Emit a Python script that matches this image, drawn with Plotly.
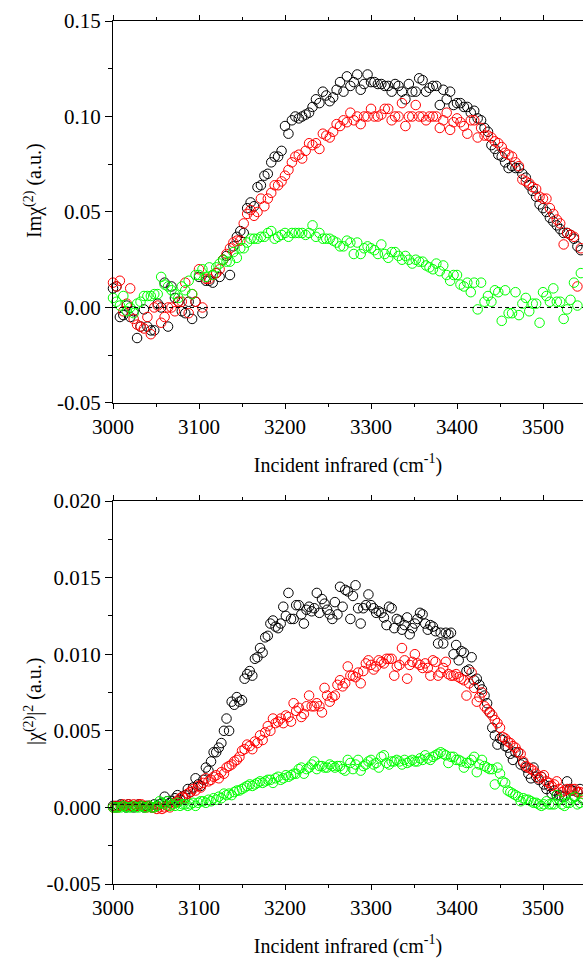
import numpy as np
import plotly.graph_objects as go

# ---------------- Im chi(2) spectra (upper panel), 4 cm-1 steps ----------------
wn_top = list(range(3000, 3553, 4))

im_black = [
    0.010, 0.011, -0.005, -0.004, 0.001, -0.005, -0.002, -0.016, -0.010, -0.001,
    -0.010, -0.012, -0.012, 0.002, 0.000, 0.013, -0.010, 0.011, 0.005, 0.003,
    -0.002, -0.003, 0.003, -0.006, 0.003, 0.016, -0.003, 0.014, 0.014, 0.013,
    0.018, 0.016, 0.025, 0.027, 0.017, 0.032, 0.037, 0.040, 0.039, 0.052,
    0.055, 0.053, 0.063, 0.064, 0.069, 0.070, 0.076, 0.079, 0.079, 0.082,
    0.095, 0.091, 0.098, 0.100, 0.099, 0.100, 0.101, 0.102, 0.105, 0.109,
    0.107, 0.113, 0.111, 0.108, 0.110, 0.114, 0.118, 0.113, 0.121, 0.116,
    0.118, 0.122, 0.114, 0.117, 0.122, 0.118, 0.118, 0.117, 0.117, 0.116,
    0.116, 0.113, 0.117, 0.116, 0.113, 0.109, 0.117, 0.113, 0.113, 0.120,
    0.119, 0.113, 0.115, 0.116, 0.116, 0.106, 0.114, 0.109, 0.113, 0.106,
    0.107, 0.107, 0.105, 0.105, 0.102, 0.103, 0.099, 0.098, 0.094, 0.092,
    0.085, 0.083, 0.080, 0.079, 0.076, 0.073, 0.074, 0.073, 0.073, 0.070,
    0.068, 0.064, 0.061, 0.058, 0.054, 0.052, 0.050, 0.047, 0.045, 0.043,
    0.041, 0.039, 0.039, 0.038, 0.036, 0.032, 0.030, 0.034, 0.033,
]

im_red = [
    0.013, 0.011, 0.014, -0.002, 0.002, 0.010, -0.006, -0.009, -0.010, -0.011,
    -0.005, -0.014, 0.000, 0.001, -0.008, -0.005, 0.000, 0.000, -0.002, 0.003,
    0.003, 0.013, -0.003, 0.007, 0.003, 0.020, 0.000, 0.015, 0.015, 0.017,
    0.018, 0.020, 0.025, 0.028, 0.031, 0.034, 0.035, 0.035, 0.044, 0.049,
    0.051, 0.048, 0.050, 0.057, 0.053, 0.057, 0.060, 0.064, 0.064, 0.066,
    0.069, 0.072, 0.076, 0.079, 0.080, 0.078, 0.082, 0.086, 0.085, 0.086,
    0.083, 0.091, 0.090, 0.089, 0.092, 0.096, 0.095, 0.098, 0.097, 0.102,
    0.098, 0.100, 0.096, 0.100, 0.100, 0.104, 0.100, 0.100, 0.101, 0.104,
    0.104, 0.098, 0.100, 0.100, 0.107, 0.095, 0.100, 0.100, 0.106, 0.100,
    0.100, 0.098, 0.100, 0.100, 0.100, 0.094, 0.098, 0.102, 0.093, 0.097,
    0.099, 0.097, 0.095, 0.091, 0.098, 0.098, 0.089, 0.094, 0.090, 0.090,
    0.089, 0.087, 0.086, 0.084, 0.081, 0.080, 0.079, 0.076, 0.074, 0.067,
    0.066, 0.065, 0.063, 0.062, 0.058, 0.057, 0.057, 0.052, 0.049, 0.046,
    0.044, 0.033, 0.039, 0.038, 0.037, 0.011, 0.031, 0.019, 0.026,
]

im_green = [
    0.005, 0.003, 0.001, 0.006, -0.002, 0.000, -0.003, 0.002, 0.003, 0.006,
    0.006, 0.006, 0.007, 0.007, 0.016, 0.012, 0.011, 0.009, 0.007, 0.005,
    0.011, 0.009, 0.014, 0.007, 0.017, 0.017, 0.020, 0.016, 0.021, 0.017,
    0.021, 0.023, 0.025, 0.024, 0.024, 0.029, 0.026, 0.031, 0.031, 0.034,
    0.036, 0.036, 0.036, 0.037, 0.037, 0.039, 0.040, 0.036, 0.037, 0.038,
    0.039, 0.037, 0.039, 0.039, 0.039, 0.039, 0.038, 0.039, 0.043, 0.037,
    0.039, 0.036, 0.036, 0.036, 0.035, 0.034, 0.032, 0.032, 0.035, 0.034,
    0.028, 0.034, 0.028, 0.031, 0.032, 0.031, 0.030, 0.028, 0.033, 0.028,
    0.026, 0.029, 0.029, 0.027, 0.025, 0.027, 0.025, 0.023, 0.025, 0.024,
    0.024, 0.022, 0.021, 0.020, 0.023, 0.019, 0.022, 0.017, 0.014, 0.017,
    0.017, 0.012, 0.011, 0.013, 0.008, 0.013, -0.001, 0.013, 0.003, 0.006,
    0.003, 0.009, 0.008, -0.007, 0.009, -0.003, -0.003, 0.008, -0.004, 0.002,
    0.005, -0.002, 0.002, 0.002, -0.008, 0.008, 0.006, 0.003, 0.010, 0.003,
    0.003, -0.006, -0.001, 0.004, 0.013, 0.001, 0.018, 0.004, 0.019,
]

# ---------------- |chi(2)|^2 spectra (lower panel), 3 cm-1 steps ----------------
wn_bot = list(range(3000, 3553, 3))

sq_black = [
    0.0001, 0.0000, 0.0001, 0.0002, 0.0001, 0.0000, 0.0002, 0.0001, 0.0000, 0.0001,
    0.0002, 0.0001, 0.0000, 0.0001, 0.0001, 0.0000, 0.0002, 0.0001, 0.0002, 0.0003,
    0.0007, 0.0004, 0.0003, 0.0004, 0.0006, 0.0008, 0.0005, 0.0007, 0.0008, 0.0012,
    0.0010, 0.0013, 0.0019, 0.0015, 0.0014, 0.0018, 0.0026, 0.0024, 0.0030, 0.0036,
    0.0036, 0.0039, 0.0042, 0.0050, 0.0058, 0.0050, 0.0069, 0.0067, 0.0072, 0.0069,
    0.0070, 0.0084, 0.0087, 0.0089, 0.0086, 0.0097, 0.0098, 0.0104, 0.0101, 0.0111,
    0.0112, 0.0120, 0.0122, 0.0118, 0.0117, 0.0120, 0.0131, 0.0125, 0.0140, 0.0123,
    0.0123, 0.0132, 0.0132, 0.0126, 0.0120, 0.0129, 0.0131, 0.0128, 0.0130, 0.0140,
    0.0127, 0.0136, 0.0133, 0.0129, 0.0126, 0.0123, 0.0134, 0.0126, 0.0144, 0.0131,
    0.0142, 0.0141, 0.0123, 0.0138, 0.0145, 0.0130, 0.0120, 0.0130, 0.0132, 0.0139,
    0.0132, 0.0130, 0.0127, 0.0128, 0.0127, 0.0124, 0.0119, 0.0131, 0.0130, 0.0117,
    0.0123, 0.0122, 0.0116, 0.0119, 0.0124, 0.0113, 0.0117, 0.0120, 0.0123, 0.0127,
    0.0126, 0.0120, 0.0116, 0.0119, 0.0118, 0.0115, 0.0107, 0.0114, 0.0107, 0.0114,
    0.0113, 0.0114, 0.0100, 0.0106, 0.0096, 0.0102, 0.0101, 0.0089, 0.0090, 0.0098,
    0.0083, 0.0084, 0.0080, 0.0077, 0.0073, 0.0068, 0.0062, 0.0052, 0.0047, 0.0041,
    0.0045, 0.0044, 0.0040, 0.0039, 0.0035, 0.0031, 0.0036, 0.0036, 0.0028, 0.0029,
    0.0026, 0.0022, 0.0019, 0.0026, 0.0020, 0.0018, 0.0020, 0.0015, 0.0012, 0.0014,
    0.0009, 0.0011, 0.0008, 0.0008, 0.0007, 0.0007, 0.0017, 0.0012, 0.0011, 0.0007,
    0.0010, 0.0012, 0.0006, 0.0010, 0.0008,
]

sq_red = [
    0.0000, 0.0001, 0.0000, 0.0001, 0.0002, 0.0001, 0.0002, 0.0001, 0.0002, 0.0001,
    0.0002, 0.0002, 0.0001, 0.0000, 0.0001, 0.0000, 0.0000, -0.0001, 0.0000, -0.0001,
    0.0000, 0.0001, 0.0000, 0.0002, 0.0003, 0.0004, 0.0006, 0.0007, 0.0006, 0.0009,
    0.0010, 0.0012, 0.0011, 0.0014, 0.0013, 0.0016, 0.0019, 0.0017, 0.0018, 0.0020,
    0.0021, 0.0019, 0.0023, 0.0022, 0.0026, 0.0027, 0.0028, 0.0030, 0.0031, 0.0033,
    0.0037, 0.0038, 0.0041, 0.0040, 0.0038, 0.0043, 0.0042, 0.0047, 0.0044, 0.0049,
    0.0053, 0.0050, 0.0058, 0.0055, 0.0056, 0.0058, 0.0055, 0.0060, 0.0059, 0.0056,
    0.0068, 0.0063, 0.0065, 0.0059, 0.0061, 0.0066, 0.0073, 0.0066, 0.0066, 0.0068,
    0.0066, 0.0062, 0.0078, 0.0073, 0.0069, 0.0072, 0.0073, 0.0080, 0.0083, 0.0079,
    0.0081, 0.0092, 0.0086, 0.0086, 0.0085, 0.0088, 0.0081, 0.0089, 0.0094, 0.0096,
    0.0093, 0.0090, 0.0092, 0.0096, 0.0095, 0.0094, 0.0097, 0.0097, 0.0097, 0.0086,
    0.0092, 0.0093, 0.0104, 0.0096, 0.0084, 0.0093, 0.0095, 0.0100, 0.0094, 0.0093,
    0.0091, 0.0094, 0.0091, 0.0086, 0.0096, 0.0095, 0.0086, 0.0088, 0.0091, 0.0095,
    0.0087, 0.0086, 0.0086, 0.0087, 0.0085, 0.0084, 0.0083, 0.0073, 0.0081, 0.0088,
    0.0078, 0.0069, 0.0072, 0.0075, 0.0066, 0.0064, 0.0062, 0.0060, 0.0057, 0.0055,
    0.0052, 0.0046, 0.0045, 0.0043, 0.0042, 0.0040, 0.0039, 0.0036, 0.0035, 0.0030,
    0.0027, 0.0026, 0.0025, 0.0024, 0.0022, 0.0019, 0.0020, 0.0021, 0.0017, 0.0016,
    0.0014, 0.0015, 0.0017, 0.0012, 0.0010, 0.0011, 0.0012, 0.0011, 0.0012, 0.0012,
    0.0010, 0.0010, 0.0009, 0.0010, 0.0008,
]

sq_green = [
    0.0000, 0.0000, 0.0000, 0.0000, 0.0001, 0.0000, 0.0000, 0.0000, 0.0001, 0.0000,
    0.0000, 0.0001, 0.0000, 0.0000, 0.0001, 0.0000, 0.0000, 0.0001, 0.0004, 0.0003,
    0.0002, 0.0004, 0.0001, 0.0002, 0.0001, 0.0003, 0.0001, 0.0002, 0.0002, 0.0001,
    0.0002, 0.0003, 0.0001, 0.0003, 0.0004, 0.0004, 0.0003, 0.0005, 0.0004, 0.0006,
    0.0005, 0.0007, 0.0006, 0.0009, 0.0008, 0.0009, 0.0008, 0.0010, 0.0011, 0.0011,
    0.0012, 0.0013, 0.0014, 0.0015, 0.0014, 0.0015, 0.0016, 0.0017, 0.0016, 0.0017,
    0.0018, 0.0018, 0.0016, 0.0019, 0.0020, 0.0018, 0.0019, 0.0021, 0.0020, 0.0021,
    0.0022, 0.0022, 0.0025, 0.0026, 0.0022, 0.0025, 0.0026, 0.0028, 0.0030, 0.0025,
    0.0027, 0.0027, 0.0026, 0.0026, 0.0028, 0.0027, 0.0026, 0.0027, 0.0027, 0.0025,
    0.0024, 0.0031, 0.0029, 0.0025, 0.0028, 0.0031, 0.0024, 0.0027, 0.0028, 0.0030,
    0.0031, 0.0028, 0.0029, 0.0026, 0.0033, 0.0034, 0.0029, 0.0028, 0.0030, 0.0030,
    0.0031, 0.0030, 0.0028, 0.0031, 0.0029, 0.0030, 0.0031, 0.0030, 0.0030, 0.0032,
    0.0031, 0.0034, 0.0032, 0.0031, 0.0033, 0.0034, 0.0035, 0.0036, 0.0035, 0.0034,
    0.0029, 0.0033, 0.0033, 0.0031, 0.0031, 0.0030, 0.0026, 0.0029, 0.0029, 0.0031,
    0.0033, 0.0023, 0.0028, 0.0031, 0.0027, 0.0026, 0.0025, 0.0025, 0.0015, 0.0026,
    0.0022, 0.0017, 0.0016, 0.0011, 0.0010, 0.0009, 0.0008, 0.0007, 0.0004, 0.0006,
    0.0005, 0.0005, 0.0004, 0.0003, 0.0003, 0.0002, 0.0001, 0.0002, 0.0004, 0.0002,
    0.0002, 0.0002, 0.0008, 0.0005, 0.0002, 0.0001, 0.0003, 0.0003, 0.0006, 0.0007,
    0.0002, 0.0003, 0.0005, 0.0002, 0.0004,
]

# reference baselines drawn as dashed lines
baseline_top = 0.0
baseline_bot = 0.0002

# axis ticks
x_ticks = [3000, 3100, 3200, 3300, 3400, 3500]
y_top_ticks = [-0.05, 0.00, 0.05, 0.10, 0.15]
y_top_labels = ["-0.05", "0.00", "0.05", "0.10", "0.15"]
y_bot_ticks = [-0.005, 0.000, 0.005, 0.010, 0.015, 0.020]
y_bot_labels = ["-0.005", "0.000", "0.005", "0.010", "0.015", "0.020"]

colors = ["#000000", "#ff0000", "#00ff00"]
FONT = "Liberation Serif"

fig = go.Figure()

def add_series(x, y, color, xa, ya):
    fig.add_trace(go.Scatter(
        x=x, y=y, mode="markers", xaxis=xa, yaxis=ya, cliponaxis=False,
        marker=dict(symbol="circle-open", size=9.5, color=color, line=dict(width=1, color=color)),
        showlegend=False, hoverinfo="skip",
    ))

for y, c in zip([im_black, im_red, im_green], colors):
    add_series(wn_top, y, c, "x", "y")
for y, c in zip([sq_black, sq_red, sq_green], colors):
    add_series(wn_bot, y, c, "x2", "y2")

x_lo, x_hi = 3000, 3546.5

for xa, ya, yb in [("x", "y", baseline_top), ("x2", "y2", baseline_bot)]:
    fig.add_trace(go.Scatter(
        x=[x_lo, 3600], y=[yb, yb], mode="lines", xaxis=xa, yaxis=ya,
        line=dict(color="black", width=1, dash="4px,3px"),
        showlegend=False, hoverinfo="skip",
    ))

xaxis_common = dict(
    range=[x_lo, x_hi], tickmode="array", tickvals=x_ticks,
    ticks="outside", ticklen=5, tickwidth=1.2, tickcolor="black",
    minor=dict(dtick=50, tick0=3000, ticks="outside", ticklen=3, tickwidth=1.2, tickcolor="black"),
    showline=True, linecolor="black", linewidth=1.3, mirror="allticks",
    showgrid=False, zeroline=False,
    tickfont=dict(family=FONT, size=21, color="black"),
    title=dict(text="Incident infrared (cm<sup>-1</sup>)", standoff=19,
               font=dict(family=FONT, size=20, color="black")),
)

yaxis_common = dict(
    ticks="outside", ticklen=7, tickwidth=1.2, tickcolor="black",
    showline=True, linecolor="black", linewidth=1.3, mirror=False,
    showgrid=False, zeroline=False,
    tickfont=dict(family=FONT, size=21, color="black"),
)

# y-axis titles as rotated annotations (paper coords relative to the plot area)
PLOT_L, PLOT_W, PLOT_T, PLOT_H = 113, 470, 21, 863

def title_anno(text, cx, cy):
    return dict(
        text=text, textangle=-90, showarrow=False,
        xref="paper", yref="paper",
        x=(cx - PLOT_L) / PLOT_W, y=(PLOT_T + PLOT_H - cy) / PLOT_H,
        xanchor="center", yanchor="middle",
        font=dict(family=FONT, size=20, color="black"),
    )

fig.update_layout(
    width=583, height=960,
    margin=dict(l=113, r=0, t=21, b=76),
    paper_bgcolor="white", plot_bgcolor="white",
    font=dict(family=FONT, color="black"),
    xaxis=dict(domain=[0, 1], anchor="y", **xaxis_common),
    xaxis2=dict(domain=[0, 1], anchor="y2", **xaxis_common),
    yaxis=dict(domain=[0.5574, 1], anchor="x", range=[-0.05, 0.15],
               tickmode="array", tickvals=y_top_ticks, ticktext=y_top_labels,
               minor=dict(dtick=0.025, tick0=0, ticks="outside", ticklen=4, tickwidth=1.2, tickcolor="black"),
               **yaxis_common),
    yaxis2=dict(domain=[0, 0.4438], anchor="x2", range=[-0.005, 0.020],
                tickmode="array", tickvals=y_bot_ticks, ticktext=y_bot_labels,
                minor=dict(dtick=0.0025, tick0=0, ticks="outside", ticklen=4, tickwidth=1.2, tickcolor="black"),
                **yaxis_common),
    annotations=[
        title_anno("Im\u03c7<sup>(2)</sup> (a.u.)", 33, 191),
        title_anno("|\u03c7<sup>(2)</sup>|<sup>2</sup> (a.u.)", 33, 702),
    ],
)

fig.write_html("out.html")
